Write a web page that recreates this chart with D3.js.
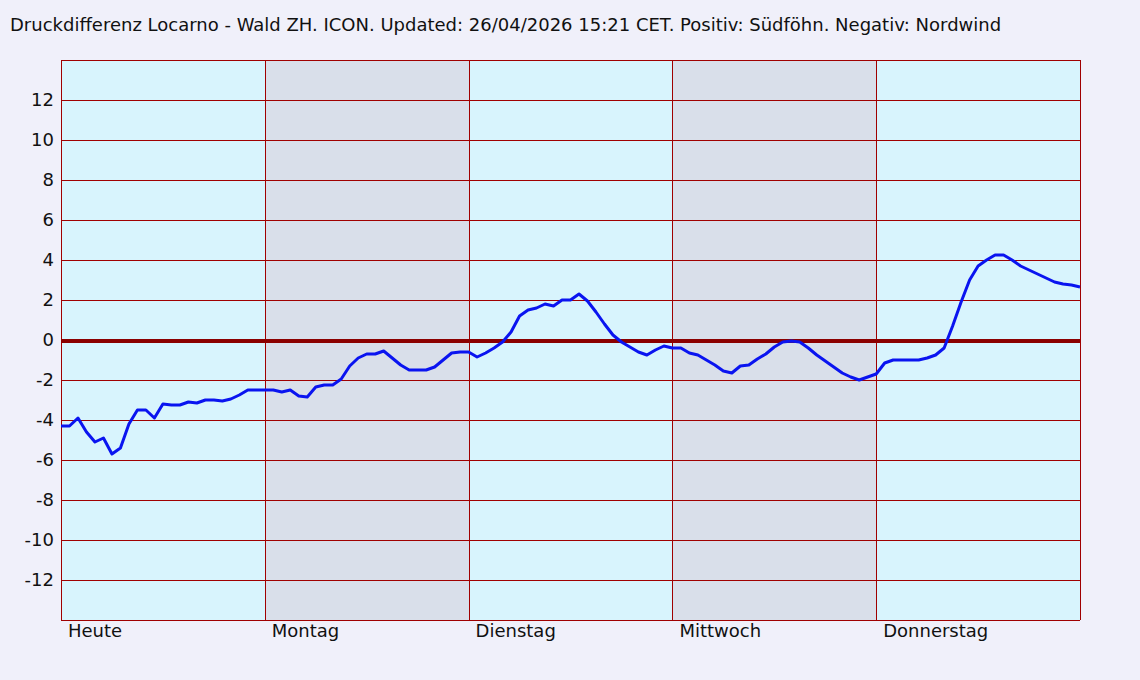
<!DOCTYPE html>
<html><head><meta charset="utf-8">
<script src="https://cdn.jsdelivr.net/npm/d3@7"></script>
<style>body{margin:0;background:#f0f0fa;}svg{display:block;font-family:"DejaVu Sans",sans-serif;}</style>
</head><body><svg id="c" width="1140" height="680"></svg>
<script>
const title = "Druckdifferenz Locarno - Wald ZH. ICON. Updated: 26/04/2026 15:21 CET. Positiv: Südföhn. Negativ: Nordwind";
const days = ["Heute","Montag","Dienstag","Mittwoch","Donnerstag"];
const yTicks = [-12,-10,-8,-6,-4,-2,0,2,4,6,8,10,12];
// hourly values, hour 0..120
const values = [-4.3,-4.3,-3.9,-4.6,-5.1,-4.9,-5.7,-5.4,-4.2,-3.5,-3.5,-3.9,-3.2,-3.25,-3.25,-3.1,-3.15,-3.0,-3.0,-3.05,-2.95,-2.75,-2.5,-2.5,
-2.5,-2.5,-2.6,-2.5,-2.8,-2.85,-2.35,-2.25,-2.25,-1.95,-1.3,-0.9,-0.7,-0.7,-0.55,-0.9,-1.25,-1.5,-1.5,-1.5,-1.35,-1.0,-0.65,-0.6,
-0.6,-0.85,-0.65,-0.4,-0.1,0.4,1.2,1.5,1.6,1.8,1.7,2.0,2.0,2.3,1.95,1.4,0.8,0.25,-0.1,-0.35,-0.6,-0.75,-0.5,-0.3,
-0.4,-0.4,-0.65,-0.75,-1.0,-1.25,-1.55,-1.65,-1.3,-1.25,-0.95,-0.7,-0.35,-0.1,-0.05,-0.1,-0.4,-0.75,-1.05,-1.35,-1.65,-1.85,-2.0,-1.85,
-1.7,-1.15,-1.0,-1.0,-1.0,-1.0,-0.9,-0.75,-0.4,0.7,1.9,3.0,3.7,4.0,4.25,4.25,4.0,3.7,3.5,3.3,3.1,2.9,2.8,2.75,2.65];

const svg = d3.select("#c");
const L=61,R=1080,T=60,B=620;
const x = d3.scaleLinear().domain([0,120]).range([L,R]);
const y = d3.scaleLinear().domain([-14,14]).range([B,T]);
const fs = 18;
const px = v => Math.round(v)+0.5;
const gBg = svg.append("g"), gGrid = svg.append("g"), gTxt = svg.append("g");

gTxt.append("text").attr("x",10).attr("y",31).attr("font-size",fs).attr("fill","#111").text(title);

days.forEach((d,i)=>{
  const x0 = Math.round(x(i*24)), x1 = Math.round(x((i+1)*24));
  gBg.append("rect").attr("x",x0).attr("y",T).attr("width",x1-x0).attr("height",B-T)
    .attr("fill", i%2 ? "#d9dfea" : "#d8f4fd").attr("shape-rendering","crispEdges");
  gTxt.append("text").attr("x",x(i*24)+7).attr("y",637).attr("font-size",fs).attr("fill","#111").text(d);
});
yTicks.forEach(t=>{
  if(t!==0) gGrid.append("line").attr("x1",L).attr("x2",R).attr("y1",px(y(t))).attr("y2",px(y(t))).attr("stroke","#a00000").attr("stroke-width",1);
  gTxt.append("text").attr("x",54).attr("y",y(t)+6).attr("text-anchor","end").attr("font-size",fs).attr("fill","#111").text(t);
});
d3.range(0,6).forEach(i=>{
  gGrid.append("line").attr("x1",px(x(i*24))).attr("x2",px(x(i*24))).attr("y1",T).attr("y2",B).attr("stroke","#a00000").attr("stroke-width",1);
});
gGrid.append("line").attr("x1",L).attr("x2",R).attr("y1",px(T)).attr("y2",px(T)).attr("stroke","#a00000");
gGrid.append("line").attr("x1",L).attr("x2",R).attr("y1",px(B)).attr("y2",px(B)).attr("stroke","#a00000");
gGrid.append("line").attr("x1",L).attr("x2",R).attr("y1",y(0)+1).attr("y2",y(0)+1).attr("stroke","#8b0000").attr("stroke-width",4);

svg.append("path").datum(values)
  .attr("d",d3.line().x((d,i)=>x(i)).y(d=>y(d)))
  .attr("fill","none").attr("stroke","#0a14f0").attr("stroke-width",3).attr("stroke-linejoin","round");
</script></body></html>
